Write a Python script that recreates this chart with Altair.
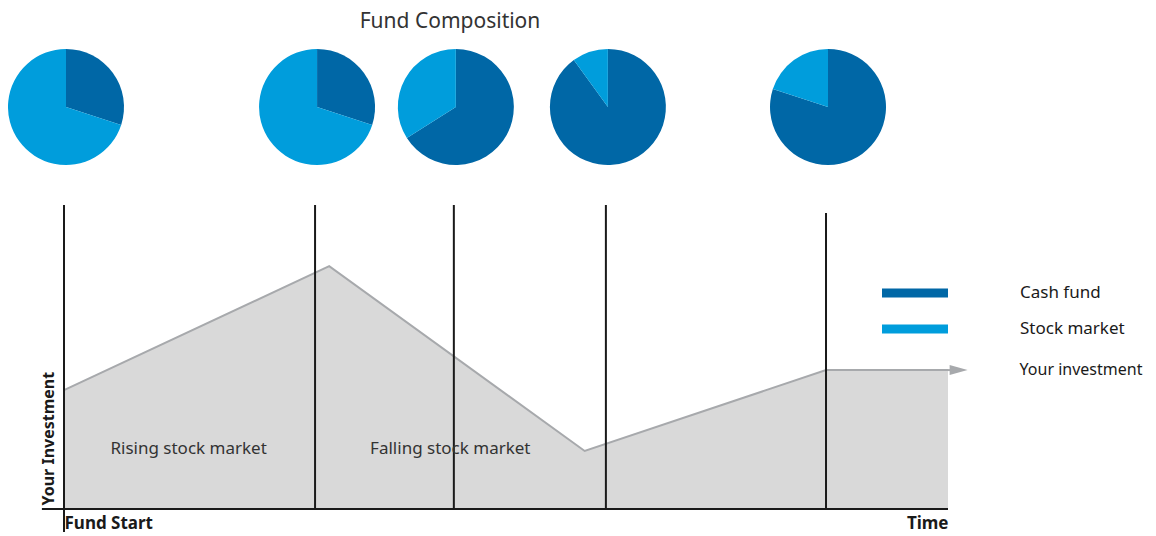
import math
import altair as alt
import pandas as pd

# ---------------- data ----------------
# event times (position on the time axis, 0..100) where the fund composition is shown
event_time = [0, 28.4, 44.1, 61.3, 86.2]
event_top = [100, 100, 100, 100, 97.4]
cash_share = [0.30, 0.30, 0.66, 0.90, 0.80]   # dark blue
stock_share = [0.70, 0.70, 0.34, 0.10, 0.20]  # light blue

# investment line
line_time = [0, 30.0, 58.9, 86.2, 100]
line_value = [39.1, 79.9, 19.1, 45.7, 45.7]
arrow_time = [100, 100.4]
arrow_value = [45.7, 45.7]
arrow_head_time = [101.2]

series_names = ["Cash fund", "Stock market"]
series_colors = ["#0067A6", "#009DDC"]

annot_text = ["Rising stock market", "Falling stock market"]
annot_time = [14.1, 43.7]
annot_value = [19.7, 19.7]

axis_labels = ["Fund Start", "Time"]
y_title = "Your Investment"
chart_title = "Fund Composition"
line_name = "Your investment"

FONT = "Noto Sans"
TXT = "#333333"

# ---------------- tables ----------------
pie_rows = []
for i, t in enumerate(event_time):
    c = cash_share[i]
    pie_rows.append({"t": t, "series": series_names[0], "a0": 0.0, "a1": c * 2 * math.pi})
    pie_rows.append({"t": t, "series": series_names[1], "a0": c * 2 * math.pi, "a1": 2 * math.pi})
pies = pd.DataFrame(pie_rows)

events = pd.DataFrame({"t": event_time, "top": event_top, "bottom": [0] * len(event_time)})
line_df = pd.DataFrame({"t": line_time, "v": line_value})
arrow_df = pd.DataFrame({"t": arrow_time, "v": arrow_value})
tip_df = pd.DataFrame({"t": arrow_head_time, "v": [arrow_value[-1]], "label": [line_name]})
annot_df = pd.DataFrame({"t": annot_time, "v": annot_value, "text": annot_text})

xscale = alt.Scale(domain=[0, 100], nice=False, zero=False)
yscale = alt.Scale(domain=[0, 100], nice=False)

label_expr = f"datum.value == 0 ? '{axis_labels[0]}' : '{axis_labels[1]}'"
x_axis = alt.Axis(values=[0, 100], labelExpr=label_expr, labelFlush=True, domain=False,
                  ticks=False, grid=False, title=None, labelFont=FONT, labelFontSize=17,
                  labelFontWeight="bold", labelColor="#1a1a1a", labelPadding=6)
y_axis = alt.Axis(title=y_title, domain=False, ticks=False, labels=False, grid=False,
                  titleFont=FONT, titleFontSize=16, titleFontWeight="bold",
                  titleColor="#1a1a1a", titleAnchor="start", titleY=300, titlePadding=8)

X = alt.X("t:Q", scale=xscale, axis=x_axis)
Y = alt.Y("v:Q", scale=yscale, axis=y_axis)

area = alt.Chart(line_df).mark_area(color="#D9D9D9", opacity=1).encode(x=X, y=Y)
line = alt.Chart(line_df).mark_line(color="#A7A9AC", strokeWidth=2).encode(x="t:Q", y="v:Q")
arrow_line = alt.Chart(arrow_df).mark_line(color="#A7A9AC", strokeWidth=2).encode(x="t:Q", y="v:Q")
arrow_head = alt.Chart(tip_df).mark_point(
    shape="M-1,-0.55L1,0L-1,0.55Z", filled=True, size=324, color="#A7A9AC", opacity=1
).encode(x="t:Q", y="v:Q")
line_label = alt.Chart(tip_df).mark_text(
    align="left", baseline="middle", dx=61, font=FONT, fontSize=16, color="#1a1a1a"
).encode(x="t:Q", y="v:Q", text="label:N")

rules = alt.Chart(events).mark_rule(color="#1a1a1a", strokeWidth=2).encode(
    x="t:Q", y="top:Q", y2="bottom:Q")
axis_v = alt.Chart(events.iloc[[0]]).mark_rule(color="#1a1a1a", strokeWidth=2).encode(
    x="t:Q", y="bottom:Q", y2=alt.value(327))
axis_h = alt.Chart(pd.DataFrame({"a": [-2.5], "b": [100], "v": [0]})).mark_rule(
    color="#1a1a1a", strokeWidth=2).encode(x="a:Q", x2="b:Q", y="v:Q")

annots = alt.Chart(annot_df).mark_text(font=FONT, fontSize=17, color=TXT).encode(
    x="t:Q", y="v:Q", text="text:N")

pie = alt.Chart(pies).mark_arc(outerRadius=58, strokeWidth=0, xOffset=2).encode(
    x=alt.X("t:Q", stack=None),
    y=alt.value(-98),
    theta=alt.Theta("a0:Q", scale=None, stack=None),
    theta2="a1:Q",
    color=alt.Color("series:N",
                    scale=alt.Scale(domain=series_names, range=series_colors),
                    legend=alt.Legend(title=None, orient="none", legendX=818, legendY=75,
                                      symbolType="M-1,-0.14L1,-0.14L1,0.14L-1,0.14Z",
                                      symbolSize=4356, symbolStrokeWidth=0,
                                      clipHeight=26, rowPadding=10, labelOffset=72,
                                      labelFont=FONT, labelFontSize=17, labelColor="#1a1a1a",
                                      padding=0)),
)

title = alt.Chart(pd.DataFrame({"text": [chart_title]})).mark_text(
    font=FONT, fontSize=21, color=TXT, align="center", baseline="middle"
).encode(x=alt.value(386), y=alt.value(-183), text="text:N")

chart = alt.layer(area, line, arrow_line, arrow_head, rules, axis_v, axis_h, annots,
                  line_label, pie, title).properties(
    width=884, height=304,
    padding={"left": 56, "top": 197, "right": 200, "bottom": 27},
    autosize=alt.AutoSizeParams(type="none"),
).configure_view(stroke=None, strokeWidth=0)

chart.save("out.html", embed_options={"renderer": "svg", "actions": False})
